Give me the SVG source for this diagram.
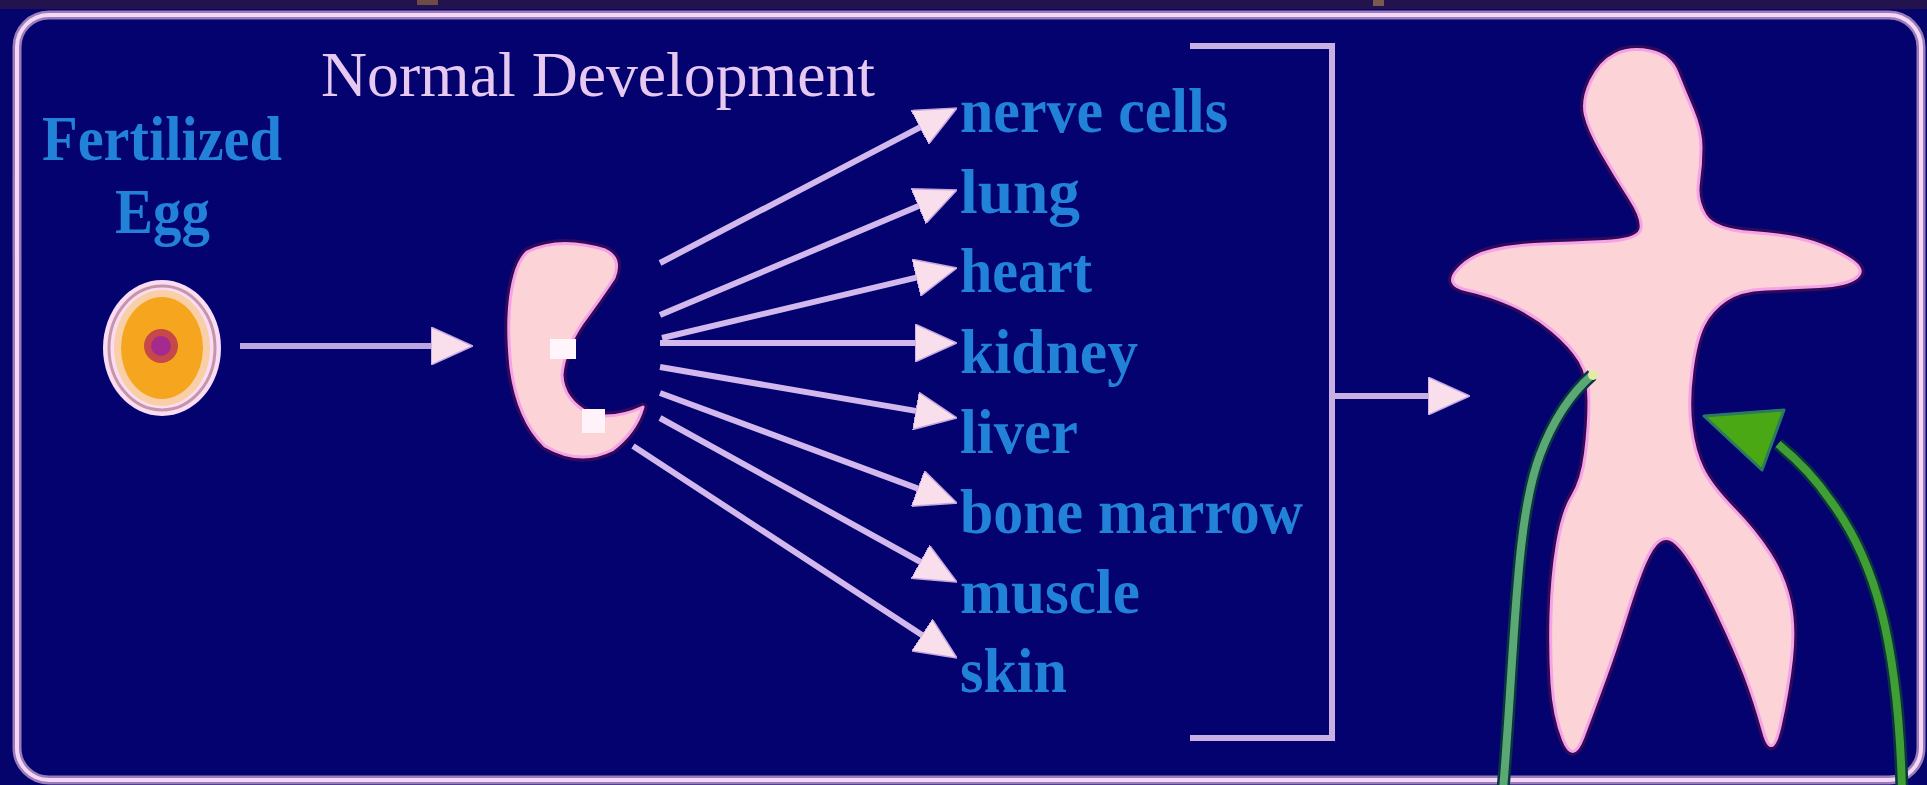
<svg xmlns="http://www.w3.org/2000/svg" width="1927" height="785" viewBox="0 0 1927 785">
  <defs>
    <style>
      .title { font-family: "Liberation Serif", "Times New Roman", serif; font-size: 64px; fill: #e6c8f0; }
      .label { font-family: "Liberation Serif", "Times New Roman", serif; font-size: 63px; font-weight: bold; fill: #2182d8; }
      .fan { stroke: #d2b8ec; stroke-width: 6; fill: none; marker-end: url(#head); }
      .halo { fill: none; stroke: #3c0a56; stroke-width: 9; stroke-linejoin: round; opacity: 0.85; }
      .flesh { fill: #fcd3d6; stroke: #f6a2e6; stroke-width: 3; stroke-linejoin: round; }
    </style>
    <marker id="head" markerUnits="userSpaceOnUse" markerWidth="42" markerHeight="38" viewBox="0 0 42 38" refX="12" refY="19" orient="auto">
      <path d="M0,0 L42,19 L0,38 Z" fill="#f9dfec" stroke="#c6a6e0" stroke-width="1.5"/>
    </marker>
  </defs>

  <!-- backdrop -->
  <rect x="0" y="0" width="1927" height="785" fill="#05036c"/>
  <rect x="0" y="0" width="1927" height="9" fill="#22124e"/>
  <rect x="417" y="0" width="21" height="5" fill="#6e4c46"/>
  <rect x="1373" y="0" width="11" height="6" fill="#7a5a50"/>

  <!-- panel frame -->
  <g id="frame">
    <rect x="17" y="15" width="1904" height="765" rx="32" fill="#03026e" stroke="#9c7cb8" stroke-width="9"/>
    <rect x="17" y="15" width="1904" height="765" rx="32" fill="none" stroke="#f4d6f6" stroke-width="4"/>
  </g>

  <text id="title" class="title" x="321" y="96" textLength="554" lengthAdjust="spacingAndGlyphs">Normal Development</text>

  <g id="fertilized-egg">
    <text class="label" x="42" y="160" textLength="240" lengthAdjust="spacingAndGlyphs">Fertilized</text>
    <text class="label" x="115" y="233" textLength="95" lengthAdjust="spacingAndGlyphs">Egg</text>
    <ellipse cx="162" cy="348" rx="59" ry="68" fill="#fbdcf4"/>
    <ellipse cx="162" cy="348" rx="53" ry="62" fill="none" stroke="#c497a8" stroke-width="3"/>
    <ellipse cx="162" cy="348" rx="48" ry="58" fill="#f9cfa8"/>
    <ellipse cx="162" cy="348" rx="41" ry="51" fill="#f6a61e"/>
    <circle cx="161" cy="346" r="17" fill="#c64848"/>
    <circle cx="161" cy="346" r="10" fill="#a42a90"/>
  </g>

  <g id="embryo">
    <path class="halo" d="M527,252 Q560,236 605,250 Q622,258 614,278 Q598,302 583,322 Q564,350 562,375 Q563,400 590,414 Q615,420 643,407 Q636,432 612,450 Q580,466 545,446 Q518,420 511,368 Q505,310 515,275 Q519,260 527,252 Z"/>
    <path class="flesh" d="M527,252 Q560,236 605,250 Q622,258 614,278 Q598,302 583,322 Q564,350 562,375 Q563,400 590,414 Q615,420 643,407 Q636,432 612,450 Q580,466 545,446 Q518,420 511,368 Q505,310 515,275 Q519,260 527,252 Z"/>
    <rect x="550" y="339" width="26" height="20" fill="#fff6fc"/>
    <rect x="582" y="409" width="23" height="24" fill="#fff2f8"/>
  </g>

  <g id="tissues">
    <text class="label" x="960" y="132" textLength="268" lengthAdjust="spacingAndGlyphs">nerve cells</text>
    <text class="label" x="960" y="213" textLength="120" lengthAdjust="spacingAndGlyphs">lung</text>
    <text class="label" x="960" y="292" textLength="132" lengthAdjust="spacingAndGlyphs">heart</text>
    <text class="label" x="960" y="373" textLength="178" lengthAdjust="spacingAndGlyphs">kidney</text>
    <text class="label" x="960" y="453" textLength="118" lengthAdjust="spacingAndGlyphs">liver</text>
    <text class="label" x="960" y="533" textLength="343" lengthAdjust="spacingAndGlyphs">bone marrow</text>
    <text class="label" x="960" y="613" textLength="180" lengthAdjust="spacingAndGlyphs">muscle</text>
    <text class="label" x="960" y="692" textLength="107" lengthAdjust="spacingAndGlyphs">skin</text>
  </g>

  <g id="bracket">
    <path d="M1190,46 H1332 V738 H1190" fill="none" stroke="#c8b0e2" stroke-width="6"/>
  </g>

  <g id="body">
    <path class="halo" d="M1615,54.5 Q1630,47 1650,51 Q1670,55 1677,72.5 Q1684,90 1692.5,110 Q1701,130 1701,147.5 Q1701,165 1698.5,182.5 Q1696,200 1705,215 Q1714,230 1752.5,232.5 Q1791,235 1813.5,242.5 Q1836,250 1851,260 Q1866,270 1856.5,277.5 Q1847,285 1819,286.5 Q1791,288 1765.5,289 Q1740,290 1725.5,300 Q1711,310 1703.5,325 Q1696,340 1692,370.5 Q1688,401 1691,426 Q1694,451 1702.5,468.5 Q1711,486 1733,508.5 Q1755,531 1769.5,553.5 Q1784,576 1789.5,601 Q1795,626 1791.5,658.5 Q1788,691 1780,726.5 Q1772,762 1763.5,731.5 Q1755,701 1745.5,676 Q1736,651 1719.5,616 Q1703,581 1692,563.5 Q1681,546 1673.5,541 Q1666,536 1659,541 Q1652,546 1644.5,563.5 Q1637,581 1626,616 Q1615,651 1604,681 Q1593,711 1583,737.5 Q1573,764 1563.5,740 Q1554,716 1552,683.5 Q1550,651 1551,613.5 Q1552,576 1557.5,543.5 Q1563,511 1572.5,496 Q1582,481 1585.5,453.5 Q1589,426 1589,401 Q1589,376 1580,361 Q1571,346 1552.5,330.5 Q1534,315 1512,305 Q1490,295 1467,290 Q1444,285 1457.5,270 Q1471,255 1493.5,250 Q1516,245 1543.5,244 Q1571,243 1604,241.5 Q1637,240 1640.5,230 Q1644,220 1629.5,197.5 Q1615,175 1602,152.5 Q1589,130 1585.5,115 Q1582,100 1591,81 Q1600,62 1615,54.5 Z"/>
    <path class="flesh" d="M1615,54.5 Q1630,47 1650,51 Q1670,55 1677,72.5 Q1684,90 1692.5,110 Q1701,130 1701,147.5 Q1701,165 1698.5,182.5 Q1696,200 1705,215 Q1714,230 1752.5,232.5 Q1791,235 1813.5,242.5 Q1836,250 1851,260 Q1866,270 1856.5,277.5 Q1847,285 1819,286.5 Q1791,288 1765.5,289 Q1740,290 1725.5,300 Q1711,310 1703.5,325 Q1696,340 1692,370.5 Q1688,401 1691,426 Q1694,451 1702.5,468.5 Q1711,486 1733,508.5 Q1755,531 1769.5,553.5 Q1784,576 1789.5,601 Q1795,626 1791.5,658.5 Q1788,691 1780,726.5 Q1772,762 1763.5,731.5 Q1755,701 1745.5,676 Q1736,651 1719.5,616 Q1703,581 1692,563.5 Q1681,546 1673.5,541 Q1666,536 1659,541 Q1652,546 1644.5,563.5 Q1637,581 1626,616 Q1615,651 1604,681 Q1593,711 1583,737.5 Q1573,764 1563.5,740 Q1554,716 1552,683.5 Q1550,651 1551,613.5 Q1552,576 1557.5,543.5 Q1563,511 1572.5,496 Q1582,481 1585.5,453.5 Q1589,426 1589,401 Q1589,376 1580,361 Q1571,346 1552.5,330.5 Q1534,315 1512,305 Q1490,295 1467,290 Q1444,285 1457.5,270 Q1471,255 1493.5,250 Q1516,245 1543.5,244 Q1571,243 1604,241.5 Q1637,240 1640.5,230 Q1644,220 1629.5,197.5 Q1615,175 1602,152.5 Q1589,130 1585.5,115 Q1582,100 1591,81 Q1600,62 1615,54.5 Z"/>
  </g>

  <g id="connectors">
    <!-- egg to embryo -->
    <line x1="240" y1="346" x2="443" y2="346" stroke="#bca6e0" stroke-width="6" marker-end="url(#head)"/>
    <!-- embryo to each tissue -->
    <line class="fan" x1="660" y1="263" x2="930.4" y2="121.9"/>
    <line class="fan" x1="660" y1="315" x2="929.3" y2="201.6"/>
    <line class="fan" x1="662" y1="338" x2="927.8" y2="274.9"/>
    <line class="fan" x1="660" y1="343" x2="927" y2="343"/>
    <line class="fan" x1="660" y1="367" x2="927.4" y2="412.9"/>
    <line class="fan" x1="660" y1="393" x2="928.9" y2="492.6"/>
    <line class="fan" x1="660" y1="418" x2="930.7" y2="567.5"/>
    <line class="fan" x1="633" y1="446" x2="931.9" y2="641.6"/>
    <!-- tissues to body -->
    <line x1="1335" y1="396" x2="1440" y2="396" stroke="#c8b0e2" stroke-width="6" marker-end="url(#head)"/>
    <!-- green return curves -->
    <path d="M1503,790 C1515,650 1515,520 1540,455 C1555,415 1575,390 1592,375" fill="none" stroke="#0b3440" stroke-width="13"/>
    <path d="M1503,790 C1515,650 1515,520 1540,455 C1555,415 1575,390 1592,375" fill="none" stroke="#5aa874" stroke-width="8"/>
    <circle cx="1593" cy="375" r="5" fill="#e2eca6"/>
    <path d="M1902,790 C1898,640 1875,560 1830,500 Q1810,470 1778,444" fill="none" stroke="#0b3440" stroke-width="13"/>
    <path d="M1902,790 C1898,640 1875,560 1830,500 Q1810,470 1778,444" fill="none" stroke="#3f9e34" stroke-width="8"/>
    <path d="M1704,416 L1784,410 L1762,470 Z" fill="#4aa814" stroke="#2a7a60" stroke-width="3" stroke-linejoin="round"/>
  </g>
</svg>
